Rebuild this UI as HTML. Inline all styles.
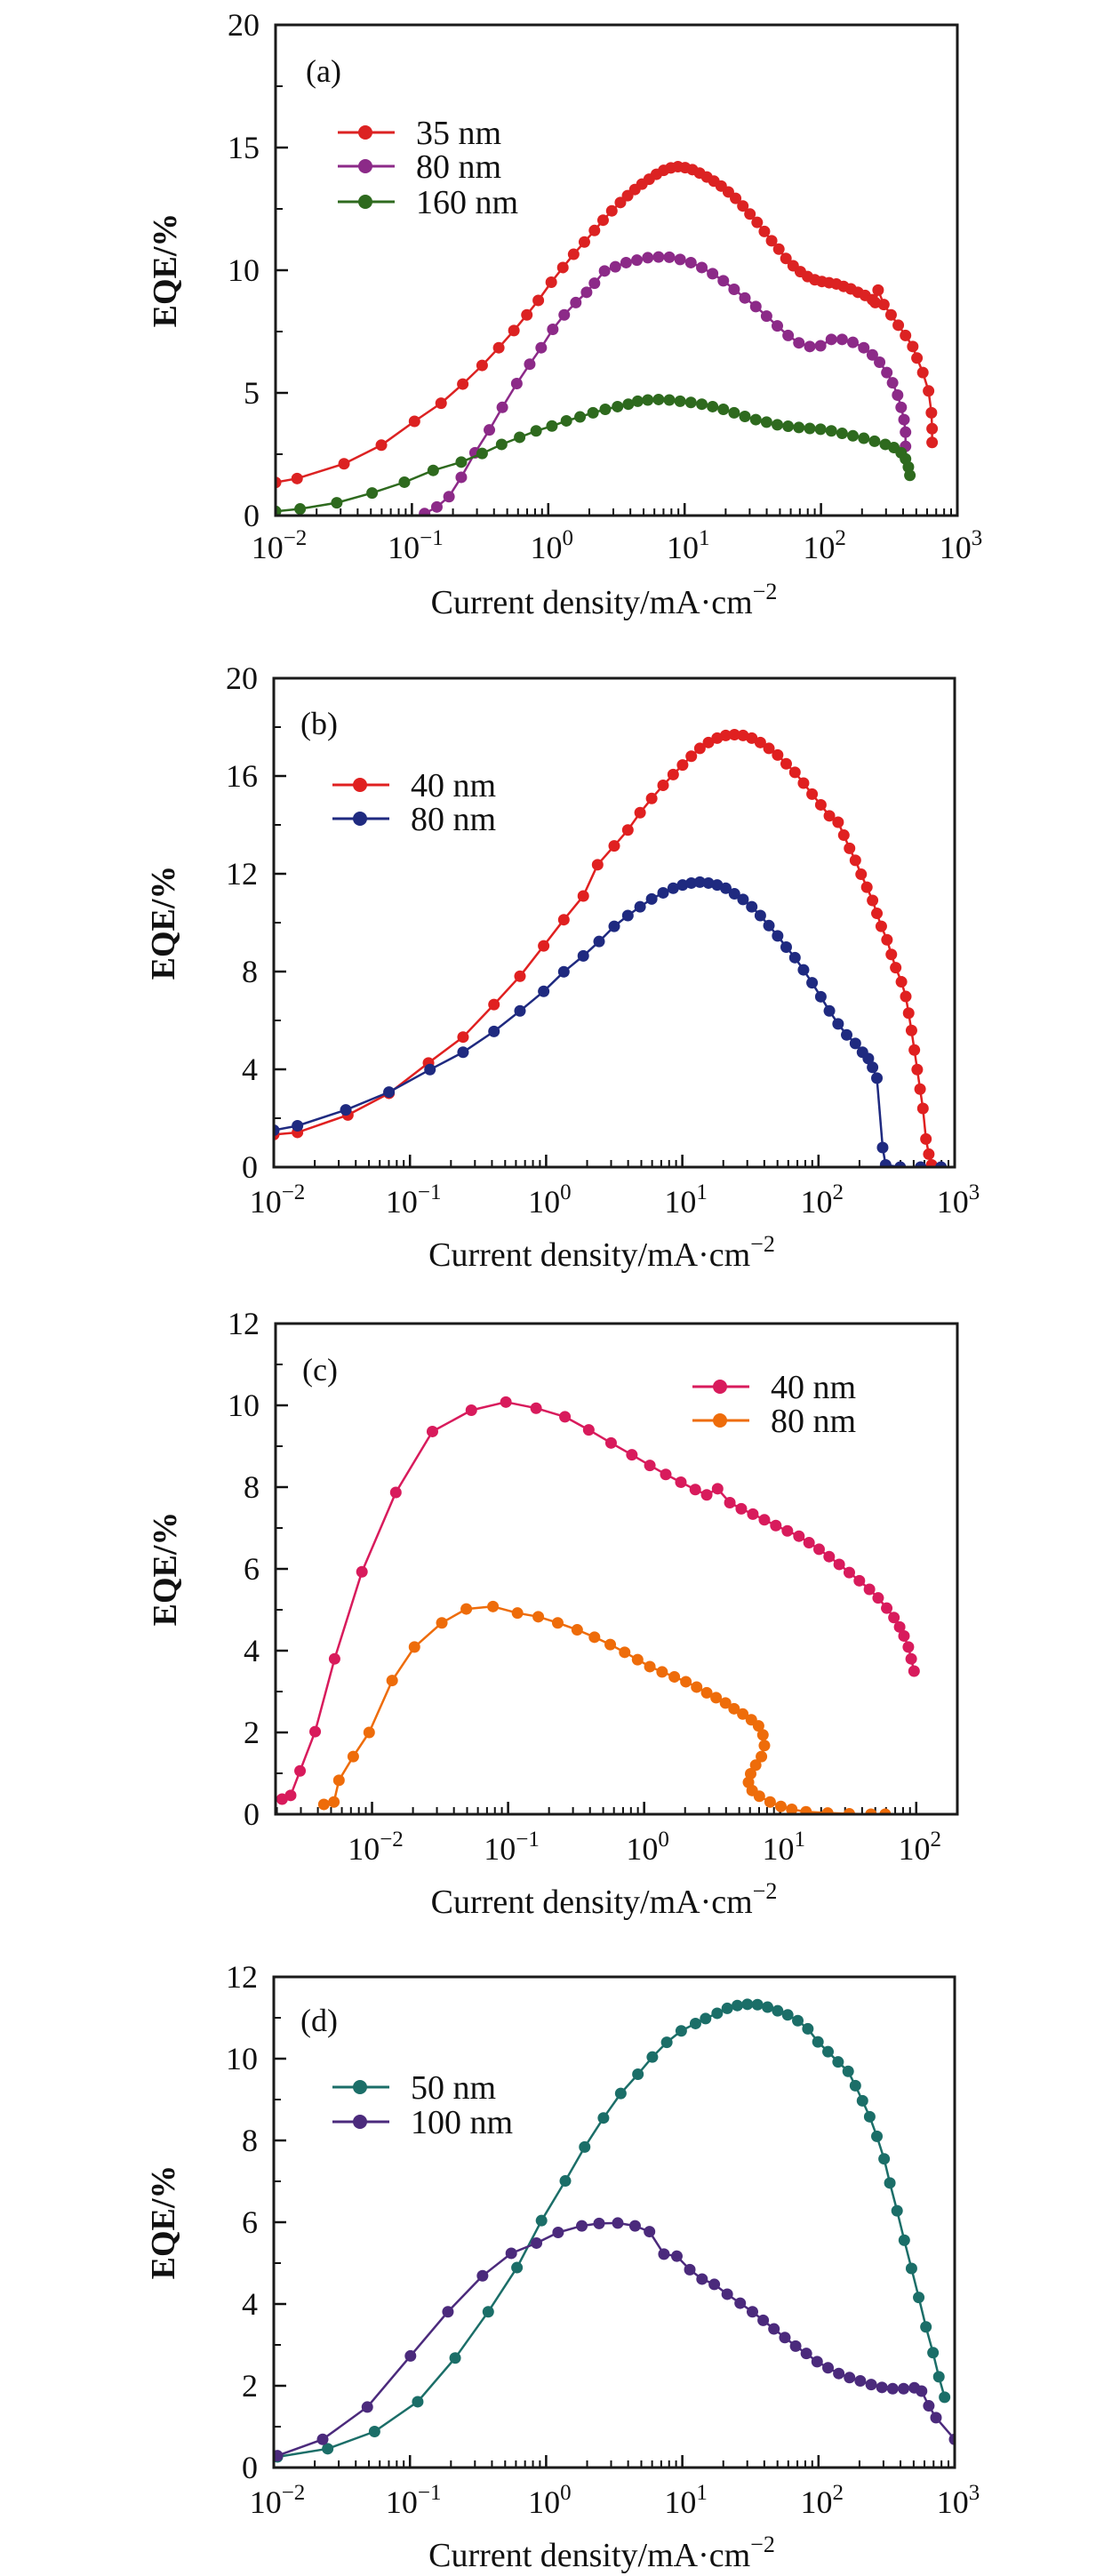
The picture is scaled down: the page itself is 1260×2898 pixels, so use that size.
<!DOCTYPE html>
<html><head><meta charset="utf-8">
<style>
html,body{margin:0;padding:0;background:#fff;}
svg{display:block;}
text{font-family:"Liberation Serif","DejaVu Serif",serif;fill:#111;}
</style></head>
<body>
<svg id="fig" width="1260" height="2898" viewBox="0 0 1260 2898" xmlns="http://www.w3.org/2000/svg"></svg>
<script>
// ===== Panel (a) data: log10(current density), EQE % =====
const aX35 = [-2,-1.842,-1.498,-1.224,-0.981,-0.786,-0.627,-0.485,-0.363,-0.252,-0.157,-0.073,0.022,0.107,0.186,0.265,0.339,0.402,0.466,0.529,0.582,0.635,0.687,0.740,0.793,0.846,0.899,0.951,1.004,1.057,1.110,1.163,1.215,1.268,1.321,1.374,1.427,1.479,1.532,1.585,1.638,1.691,1.743,1.796,1.849,1.902,1.955,2.007,2.060,2.113,2.166,2.219,2.271,2.324,2.377,2.398,2.419,2.461,2.514,2.567,2.620,2.673,2.704,2.747,2.789,2.810,2.815,2.815];
const aY35 = [1.35,1.51,2.11,2.87,3.84,4.58,5.36,6.12,6.84,7.54,8.18,8.77,9.51,10.11,10.65,11.15,11.62,12.04,12.42,12.76,13.04,13.29,13.51,13.71,13.91,14.07,14.17,14.22,14.18,14.10,13.96,13.80,13.63,13.43,13.19,12.93,12.62,12.29,11.95,11.58,11.20,10.86,10.48,10.18,9.94,9.74,9.61,9.54,9.49,9.44,9.34,9.24,9.10,8.97,8.80,8.68,9.19,8.60,8.18,7.76,7.34,6.89,6.42,5.83,5.08,4.19,3.54,2.98];
const aX80 = [-0.907,-0.817,-0.728,-0.638,-0.537,-0.432,-0.337,-0.231,-0.136,-0.052,0.033,0.117,0.202,0.281,0.339,0.413,0.492,0.571,0.650,0.730,0.809,0.888,0.967,1.046,1.126,1.205,1.284,1.363,1.442,1.522,1.601,1.680,1.759,1.838,1.918,1.997,2.076,2.155,2.234,2.314,2.377,2.430,2.483,2.525,2.562,2.588,2.609,2.620,2.620];
const aY80 = [0.08,0.35,0.77,1.56,2.56,3.49,4.41,5.38,6.17,6.84,7.59,8.18,8.68,9.10,9.47,9.97,10.14,10.31,10.41,10.51,10.54,10.53,10.44,10.31,10.11,9.86,9.57,9.22,8.87,8.52,8.13,7.73,7.34,7.04,6.89,6.92,7.18,7.18,7.06,6.84,6.55,6.25,5.83,5.41,4.91,4.41,3.91,3.40,2.82];
const aX160 = [-2,-1.820,-1.551,-1.292,-1.055,-0.844,-0.638,-0.485,-0.342,-0.210,-0.089,0.027,0.133,0.233,0.328,0.418,0.508,0.587,0.656,0.730,0.809,0.888,0.967,1.046,1.126,1.205,1.284,1.363,1.442,1.522,1.601,1.680,1.759,1.838,1.918,1.997,2.076,2.155,2.234,2.314,2.393,2.472,2.535,2.588,2.620,2.641,2.652];
const aY160 = [0.17,0.27,0.52,0.92,1.36,1.84,2.18,2.53,2.90,3.19,3.45,3.65,3.86,4.02,4.19,4.33,4.44,4.54,4.66,4.71,4.73,4.71,4.66,4.61,4.54,4.44,4.33,4.19,4.04,3.91,3.81,3.70,3.64,3.59,3.55,3.52,3.45,3.35,3.25,3.15,3.03,2.90,2.77,2.56,2.31,1.98,1.64];
const aYTicks = [0,5,10,15,20];
// ===== Panel (b) =====
const bX40 = [-2,-1.826,-1.456,-1.154,-0.864,-0.610,-0.383,-0.192,-0.018,0.130,0.273,0.378,0.500,0.600,0.690,0.775,0.859,0.933,1.002,1.066,1.129,1.192,1.256,1.319,1.383,1.446,1.510,1.573,1.636,1.700,1.763,1.827,1.890,1.953,2.017,2.080,2.144,2.186,2.228,2.271,2.313,2.355,2.397,2.429,2.461,2.503,2.535,2.567,2.609,2.641,2.662,2.683,2.704,2.725,2.746,2.767,2.789,2.810,2.831];
const bY40 = [1.33,1.42,2.13,3.02,4.26,5.32,6.65,7.81,9.05,10.12,11.09,12.37,13.14,13.79,14.50,15.08,15.62,16.06,16.45,16.81,17.13,17.37,17.55,17.66,17.69,17.66,17.55,17.37,17.13,16.86,16.50,16.15,15.71,15.26,14.82,14.37,14.11,13.58,13.04,12.55,11.98,11.45,10.91,10.38,9.85,9.30,8.70,8.16,7.58,6.98,6.30,5.59,4.79,3.99,3.19,2.40,1.15,0.53,0.09];
const bX80 = [-2,-1.826,-1.471,-1.154,-0.853,-0.610,-0.383,-0.192,-0.018,0.130,0.273,0.389,0.500,0.600,0.690,0.775,0.859,0.933,1.002,1.066,1.129,1.192,1.256,1.319,1.383,1.446,1.510,1.573,1.636,1.700,1.763,1.827,1.890,1.953,2.017,2.080,2.144,2.207,2.271,2.323,2.366,2.397,2.429,2.471,2.493,2.6,2.75,2.9];
const bY80 = [1.51,1.69,2.34,3.07,3.99,4.70,5.55,6.39,7.19,7.99,8.64,9.23,9.85,10.29,10.65,10.97,11.22,11.41,11.54,11.62,11.66,11.62,11.54,11.41,11.18,10.95,10.65,10.29,9.88,9.46,9.00,8.57,8.07,7.54,6.97,6.39,5.86,5.41,5.06,4.70,4.44,4.08,3.64,0.80,0.09,0,0,0];
const bYTicks = [0,4,8,12,16,20];
// ===== Panel (c) =====
const cX40 = [-2.661,-2.598,-2.529,-2.418,-2.275,-2.074,-1.825,-1.556,-1.270,-1.016,-0.794,-0.582,-0.407,-0.243,-0.090,0.042,0.159,0.270,0.376,0.460,0.540,0.630,0.714,0.799,0.884,0.968,1.053,1.138,1.212,1.286,1.360,1.434,1.508,1.582,1.656,1.720,1.783,1.836,1.878,1.910,1.942,1.963,1.984];
const cY40 = [0.37,0.46,1.06,2.02,3.80,5.93,7.87,9.36,9.88,10.08,9.93,9.72,9.40,9.08,8.79,8.53,8.31,8.12,7.94,7.81,7.96,7.62,7.47,7.34,7.20,7.06,6.93,6.80,6.64,6.48,6.30,6.11,5.91,5.71,5.50,5.29,5.04,4.81,4.58,4.36,4.09,3.80,3.50];
const cX80 = [-2.354,-2.280,-2.243,-2.138,-2.021,-1.852,-1.688,-1.487,-1.307,-1.111,-0.931,-0.778,-0.635,-0.492,-0.365,-0.249,-0.143,-0.048,0.042,0.132,0.222,0.307,0.386,0.460,0.529,0.598,0.661,0.725,0.788,0.841,0.873,0.884,0.862,0.820,0.783,0.767,0.794,0.847,0.926,1.005,1.085,1.190,1.349,1.508,1.667,1.772];
const cY80 = [0.24,0.30,0.83,1.41,2.00,3.27,4.09,4.68,5.02,5.08,4.92,4.83,4.68,4.51,4.33,4.15,3.96,3.78,3.61,3.48,3.36,3.24,3.11,2.97,2.85,2.72,2.58,2.45,2.31,2.16,1.94,1.68,1.41,1.20,0.99,0.78,0.58,0.44,0.30,0.19,0.12,0.06,0.03,0.01,0,0];
const cYTicks = [0,2,4,6,8,10,12];
// ===== Panel (d) =====
const dX50 = [-1.974,-1.604,-1.260,-0.943,-0.668,-0.425,-0.214,-0.034,0.141,0.283,0.421,0.548,0.674,0.780,0.886,0.992,1.097,1.171,1.256,1.330,1.404,1.478,1.552,1.626,1.700,1.774,1.848,1.922,1.996,2.070,2.144,2.218,2.271,2.323,2.376,2.429,2.482,2.524,2.577,2.630,2.683,2.736,2.789,2.841,2.884,2.926];
const dY50 = [0.26,0.46,0.88,1.61,2.68,3.81,4.89,6.04,7.01,7.84,8.55,9.15,9.62,10.04,10.40,10.68,10.86,10.98,11.11,11.23,11.30,11.33,11.32,11.26,11.17,11.07,10.93,10.73,10.41,10.17,9.92,9.69,9.34,8.97,8.58,8.10,7.55,6.96,6.28,5.56,4.87,4.16,3.44,2.81,2.22,1.72];
const dX100 = [-1.974,-1.641,-1.313,-0.996,-0.721,-0.467,-0.256,-0.071,0.088,0.262,0.389,0.526,0.653,0.759,0.865,0.960,1.055,1.145,1.235,1.330,1.425,1.515,1.594,1.673,1.753,1.832,1.911,1.990,2.070,2.149,2.228,2.307,2.387,2.466,2.545,2.625,2.704,2.757,2.810,2.863,3.0];
const dY100 = [0.29,0.69,1.48,2.73,3.81,4.69,5.24,5.49,5.75,5.91,5.97,5.98,5.91,5.77,5.22,5.17,4.84,4.61,4.48,4.24,4.02,3.81,3.60,3.39,3.18,2.97,2.79,2.59,2.44,2.30,2.20,2.12,2.03,1.96,1.93,1.93,1.95,1.87,1.51,1.22,0.69];
const dYTicks = [0,2,4,6,8,10,12];
const xTicksFull = [-2,-1,0,1,2,3];
const xTicksC = [-2,-1,0,1,2];

const NS='http://www.w3.org/2000/svg';
const svg=document.getElementById('fig');
function mk(tag,attrs,parent){const e=document.createElementNS(NS,tag);for(const k in attrs)e.setAttribute(k,attrs[k]);(parent||svg).appendChild(e);return e;}

function panel(cfg){
  const g=mk('g',{});
  
  
  const {L,R,T,B,xmin,xmax,ymax}=cfg;
  const sx=v=>L+(v-xmin)/(xmax-xmin)*(R-L);
  const sy=v=>B-v/ymax*(B-T);
  // clip
  const cp=mk('clipPath',{id:'clip'+cfg.id},g);
  mk('rect',{x:L,y:T,width:R-L,height:B-T},cp);
  // y ticks
  const yt=mk('g',{},g);
  
  
  const step=cfg.yTicks[1]-cfg.yTicks[0];
  cfg.yTicks.forEach((v,i)=>{
    mk('line',{x1:L,x2:L+14,y1:sy(v),y2:sy(v),stroke:'#111','stroke-width':2.5},yt);
    if(i<cfg.yTicks.length-1){const m=v+step/2;mk('line',{x1:L,x2:L+8,y1:sy(m),y2:sy(m),stroke:'#111','stroke-width':2},yt);}
    const t=mk('text',{x:L-18,y:sy(v)+12,'text-anchor':'end','font-size':36},yt);
    t.textContent=v;
    
    
  });
  // x ticks
  const xt=mk('g',{},g);
  
  
  for(let d=Math.floor(xmin);d<Math.ceil(xmax);d++){
    for(let k=1;k<=9;k++){
      const lv=d+Math.log10(k);
      if(lv<xmin-1e-6||lv>xmax+1e-6)continue;
      const x=sx(lv);
      mk('line',{x1:x,x2:x,y1:B,y2:B-(k===1?14:8),stroke:'#111','stroke-width':2},xt);
    }
  }
  cfg.xTicks.forEach(v=>{
    const x=sx(v);
    mk('line',{x1:x,x2:x,y1:B,y2:B-14,stroke:'#111','stroke-width':2.5},xt);
    const t=mk('text',{x:x+4,y:cfg.tickY,'text-anchor':'middle','font-size':36},xt);
    
    
    const a=mk('tspan',{},t);a.textContent='10';
    const b=mk('tspan',{dy:-15,'font-size':25},t);b.textContent=(v<0?'\u2212':'')+Math.abs(v);
  });
  // series
  cfg.series.forEach(s=>{
    const sg=mk('g',{'clip-path':'url(#clip'+cfg.id+')'},g);
    
    
    const pts=s.x.map((v,i)=>sx(v).toFixed(1)+','+sy(s.y[i]).toFixed(1)).join(' ');
    const pl=mk('polyline',{points:pts,fill:'none',stroke:s.color,'stroke-width':2.5,'stroke-linejoin':'round'},sg);
    
    
    s.x.forEach((v,i)=>{
      const c=mk('circle',{cx:sx(v),cy:sy(s.y[i]),r:6.5,fill:s.color},sg);
      
      
    });
  });
  // frame
  const fr=mk('rect',{x:L,y:T,width:R-L,height:B-T,fill:'none',stroke:'#1a1a1a','stroke-width':3},g);
  
  
  // panel label
  const pl=mk('text',{x:cfg.labX,y:cfg.labY,'font-size':36},g);
  pl.textContent='('+cfg.id+')';
  
  
  // legend
  const lg=mk('g',{},g);
  
  
  cfg.series.forEach((s,i)=>{
    const y=cfg.legY[i];
    const e=mk('g',{},lg);
    
    
    mk('line',{x1:cfg.legX,x2:cfg.legX+64,y1:y,y2:y,stroke:s.color,'stroke-width':3},e);
    mk('circle',{cx:cfg.legX+31,cy:y,r:8,fill:s.color},e);
    const t=mk('text',{x:cfg.legX+88,y:y+13,'font-size':38},e);
    t.textContent=s.name+' nm';
  });
  // axis titles
  const xl=mk('text',{x:(L+R)/2-14,y:cfg.xlabY,'text-anchor':'middle','font-size':38},g);
  
  
  const m=mk('tspan',{},xl);m.textContent='Current density/mA\u00b7cm';
  const sp=mk('tspan',{dy:-16,'font-size':26},xl);sp.textContent='\u22122';
  const cy=(T+B)/2;
  const yl=mk('text',{x:0,y:0,'text-anchor':'middle','font-size':38,'font-weight':'bold',transform:'translate('+(cfg.ylabX)+','+cy+') rotate(-90)'},g);
  yl.textContent='EQE/%';
  
  
}

panel({id:'a',L:310,R:1077,T:28,B:580,xmin:-2,xmax:3,ymax:20,yTicks:aYTicks,xTicks:xTicksFull,tickY:628,xlabY:690,ylabX:198,
  labX:344,labY:92,legX:380,legY:[149,187,227],
  series:[{name:'35',x:aX35,y:aY35,color:'#dc2222'},{name:'80',x:aX80,y:aY80,color:'#8c2a88'},{name:'160',x:aX160,y:aY160,color:'#2e6a1e'}]});
panel({id:'b',L:308,R:1074,T:763,B:1313,xmin:-2,xmax:3,ymax:20,yTicks:bYTicks,xTicks:xTicksFull,tickY:1364,xlabY:1424,ylabX:196,
  labX:338,labY:826,legX:374,legY:[883,921],
  series:[{name:'40',x:bX40,y:bY40,color:'#e02020'},{name:'80',x:bX80,y:bY80,color:'#1f2a80'}]});
panel({id:'c',L:310,R:1077,T:1489,B:2041,xmin:-2.709,xmax:2.302,ymax:12,yTicks:cYTicks,xTicks:xTicksC,tickY:2092,xlabY:2152,ylabX:198,
  labX:340,labY:1553,legX:779,legY:[1560,1598],
  series:[{name:'40',x:cX40,y:cY40,color:'#d81b5c'},{name:'80',x:cX80,y:cY80,color:'#ee6c0a'}]});
panel({id:'d',L:308,R:1074,T:2224,B:2776,xmin:-2,xmax:3,ymax:12,yTicks:dYTicks,xTicks:xTicksFull,tickY:2827,xlabY:2887,ylabX:196,
  labX:338,labY:2285,legX:374,legY:[2348,2387],
  series:[{name:'50',x:dX50,y:dY50,color:'#1b6e68'},{name:'100',x:dX100,y:dY100,color:'#4b2a7c'}]});
</script>
</body></html>
